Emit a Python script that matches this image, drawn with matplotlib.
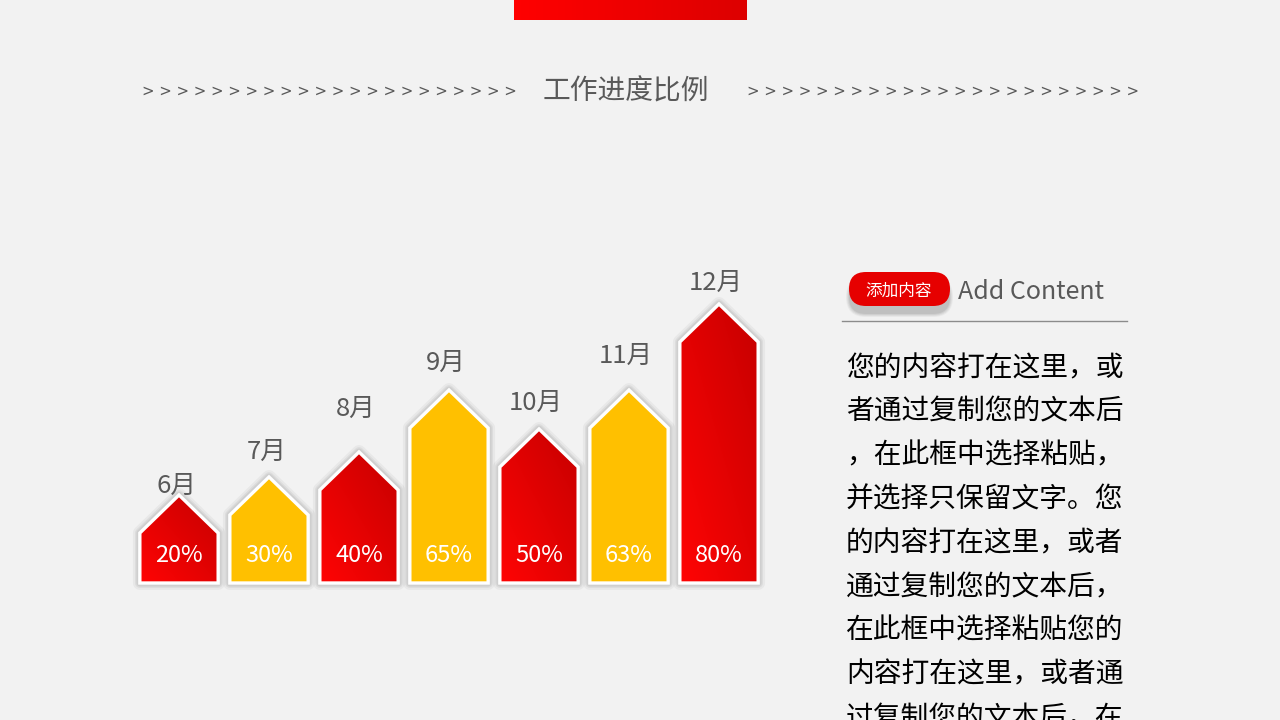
import numpy as np
import matplotlib.pyplot as plt
from matplotlib.patches import Polygon, FancyBboxPatch
from matplotlib.colors import LinearSegmentedColormap

plt.rcParams['font.family'] = ['Noto Sans CJK SC', 'DejaVu Sans']

# data
months = ['6月', '7月', '8月', '9月', '10月', '11月', '12月']
percent_labels = ['20%', '30%', '40%', '65%', '50%', '63%', '80%']
# bar body height (to the shoulder) as drawn on the slide, in px
bar_heights = [50, 68, 93, 155, 116, 155, 241]
bar_kind = ['red', 'yellow', 'red', 'yellow', 'red', 'yellow', 'red']

title = '工作进度比例'
tag_text = '添加内容'
head_text = 'Add Content'
body_lines = [
    '您的内容打在这里，或',
    '者通过复制您的文本后',
    '，在此框中选择粘贴，',
    '并选择只保留文字。您',
    '的内容打在这里，或者',
    '通过复制您的文本后，',
    '在此框中选择粘贴您的',
    '内容打在这里，或者通',
    '过复制您的文本后，在',
]

BG = '#F2F2F2'
GREY = '#595959'
YELLOW = '#FFC000'
red_cmap = LinearSegmentedColormap.from_list('red', ['#FF0404', '#C60000'])

fig = plt.figure(figsize=(12.8, 7.2), dpi=100, facecolor=BG)

# full-slide layer in pixel coords
bg = fig.add_axes([0, 0, 1, 1])
bg.axis('off')

# top red strip
gx = np.linspace(0, 1, 64).reshape(1, -1)
bg.imshow(gx, extent=(514, 747, 20, 0), cmap=LinearSegmentedColormap.from_list('t', ['#FF0000', '#DD0000']),
          aspect='auto', zorder=1)
bg.set_xlim(0, 1280)
bg.set_ylim(720, 0)

# title row
chev_l = ' '.join(['>'] * 22)
chev_r = ' '.join(['>'] * 23)
bg.text(142, 91, chev_l, ha='left', va='center', fontsize=10.7, color=GREY, family='DejaVu Sans')
bg.text(747, 91, chev_r, ha='left', va='center', fontsize=10.7, color=GREY, family='DejaVu Sans')
bg.text(626, 92, title, ha='center', va='center', fontsize=20, color=GREY)

# right panel
for k, a in enumerate([0.04, 0.05, 0.06, 0.07]):
    sh = FancyBboxPatch((866, 297), 67, 0, boxstyle='round,pad=%d' % (17 + 3 - k),
                        fc='black', ec='none', alpha=a, zorder=2)
    bg.add_patch(sh)
pill = FancyBboxPatch((866, 289), 67, 0, boxstyle='round,pad=17', fc='#E60000', ec='none', zorder=3)
bg.add_patch(pill)
bg.text(899, 291, tag_text, ha='center', va='center', fontsize=12, color='white', zorder=4)
bg.text(958, 292, head_text, ha='left', va='center', fontsize=18, color=GREY)
bg.plot([842, 1127], [321, 321], color='#8C8C8C', lw=1)
for i, line in enumerate(body_lines):
    bg.text(846, 368 + i * 43.8, line, ha='left', va='center', fontsize=20, color='black')

# bars
ax = fig.add_axes([134 / 1280, (720 - 583) / 720, 630 / 1280, 300 / 720])
ax.set_facecolor('none')
ax.axis('off')

roof = 38
w = 0.435
label_lift = [9, 25, 43, 27, 26, 34, 21]
grad = (np.linspace(0, 1, 80)[None, :] + np.linspace(0, 1, 80)[:, None]) / 2

for i, h in enumerate(bar_heights):
    pts = [(i - w, 0), (i - w, h), (i, h + roof), (i + w, h), (i + w, 0)]
    for lw, a in [(10, 0.04), (7, 0.05), (5, 0.06)]:
        ax.add_patch(Polygon(pts, closed=True, fc='none', ec='black', lw=lw, alpha=a,
                             joinstyle='round', clip_on=False, zorder=1))
    if bar_kind[i] == 'red':
        poly = Polygon(pts, closed=True, fc='none', ec='none', clip_on=False)
        ax.add_patch(poly)
        im = ax.imshow(grad, extent=(i - w, i + w, 0, h + roof), origin='lower', cmap=red_cmap,
                       aspect='auto', zorder=2)
        im.set_clip_path(poly)
    else:
        ax.add_patch(Polygon(pts, closed=True, fc=YELLOW, ec='none', clip_on=False, zorder=2))
    ax.add_patch(Polygon(pts, closed=True, fc='none', ec='white', lw=2.4, clip_on=False, zorder=3))
    ax.text(i, 28, percent_labels[i], ha='center', va='center', fontsize=17, color='white', zorder=4)
    ax.text(i - 0.03, h + roof + label_lift[i], months[i], ha='center', va='center',
            fontsize=18.5, color=GREY, zorder=4)

ax.set_xlim(-0.5, 6.5)
ax.set_ylim(0, 300)

fig.savefig('out.png', dpi=100, facecolor=BG)
